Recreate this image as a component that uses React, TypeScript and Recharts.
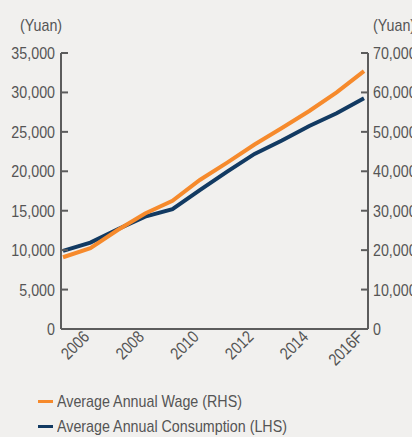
import { LineChart, Line, XAxis, YAxis, Legend } from "recharts"

// 2005 is drawn but not labelled, the axis shows every other year
const years = ["2005", "2006", "2007", "2008", "2009", "2010", "2011", "2012", "2013", "2014", "2015", "2016F"]
const shownYears = ["2006", "2008", "2010", "2012", "2014", "2016F"]
const wage = [18200, 20500, 25100, 29300, 32500, 37800, 42200, 46800, 51000, 55300, 60000, 65400]
const consumption = [9900, 10950, 12650, 14250, 15200, 17600, 19950, 22200, 23900, 25750, 27350, 29250]
const leftTicks = [0, 5000, 10000, 15000, 20000, 25000, 30000, 35000]
const rightTicks = [0, 10000, 20000, 30000, 40000, 50000, 60000, 70000]

const data = years.map((year, i) => ({ year, wage: wage[i], consumption: consumption[i] }))

// no narrow font installed, so squeeze Liberation Sans horizontally
const FONT = "'Liberation Sans', Arial, sans-serif"
const SQUEEZE = 0.84
const TEXT = "#555555"
const AXIS = "#5c5c5c"
const ORANGE = "#f68a2c"
const NAVY = "#123a62"

const fmt = (v: number) => v.toLocaleString("en-US")

function YearTick({ x, y, payload }: any) {
  if (!shownYears.includes(payload.value)) return <g />
  return (
    <g transform={`translate(${x},${y + 9}) rotate(-45) scale(${SQUEEZE},1)`}>
      <text x={0} y={0} textAnchor="end" fill={TEXT} fontSize={17} fontFamily={FONT}>
        {payload.value}
      </text>
    </g>
  )
}

function ValueTick({ x, y, payload, anchor }: any) {
  return (
    <g transform={`translate(${x},${y}) scale(${SQUEEZE},1)`}>
      <text x={0} y={0} dy="0.35em" textAnchor={anchor} fill={TEXT} fontSize={17} fontFamily={FONT}>
        {fmt(payload.value)}
      </text>
    </g>
  )
}

const squeezed = {
  fontFamily: FONT,
  fontSize: 17,
  color: TEXT,
  whiteSpace: "nowrap" as const,
  transform: `scaleX(${SQUEEZE})`,
  transformOrigin: "left center",
}

function ChartLegend() {
  const items = [
    { name: "Average Annual Wage (RHS)", color: ORANGE },
    { name: "Average Annual Consumption (LHS)", color: NAVY },
  ]
  return (
    <div>
      {items.map((it) => (
        <div key={it.name} style={{ display: "flex", alignItems: "center", height: 25 }}>
          <span style={{ display: "inline-block", width: 15, height: 3, background: it.color, marginRight: 4, flexShrink: 0 }} />
          <span style={squeezed}>{it.name}</span>
        </div>
      ))}
    </div>
  )
}

export default function App() {
  return (
    <div style={{ position: "absolute", left: 0, top: 0, width: 412, height: 437, background: "#f1f0ee", overflow: "hidden" }}>
      <div style={{ ...squeezed, position: "absolute", left: 20, top: 16 }}>(Yuan)</div>
      <div style={{ ...squeezed, position: "absolute", left: 373, top: 16 }}>(Yuan)</div>
      <LineChart width={412} height={437} data={data} margin={{ top: 53, right: 0, bottom: 68, left: 0 }}>
        <XAxis
          dataKey="year"
          interval={0}
          tick={<YearTick />}
          tickLine={false}
          tickSize={0}
          tickMargin={0}
          height={40}
          padding={{ left: 2, right: 4 }}
          axisLine={{ stroke: AXIS, strokeWidth: 2 }}
        />
        <YAxis
          yAxisId="left"
          domain={[0, 35000]}
          ticks={leftTicks}
          width={61}
          tickSize={-7}
          tickMargin={13}
          tick={<ValueTick anchor="end" />}
          tickLine={{ stroke: AXIS, strokeWidth: 2 }}
          axisLine={{ stroke: AXIS, strokeWidth: 2 }}
        />
        <YAxis
          yAxisId="right"
          orientation="right"
          domain={[0, 70000]}
          ticks={rightTicks}
          width={44}
          tickSize={-7}
          tickMargin={12}
          tick={<ValueTick anchor="start" />}
          tickLine={{ stroke: AXIS, strokeWidth: 2 }}
          axisLine={{ stroke: AXIS, strokeWidth: 2 }}
        />
        <Line
          yAxisId="left"
          dataKey="consumption"
          name="Average Annual Consumption (LHS)"
          stroke={NAVY}
          strokeWidth={4}
          dot={false}
          isAnimationActive={false}
        />
        <Line
          yAxisId="right"
          dataKey="wage"
          name="Average Annual Wage (RHS)"
          stroke={ORANGE}
          strokeWidth={4}
          dot={false}
          isAnimationActive={false}
        />
        <Legend
          layout="vertical"
          align="center"
          verticalAlign="middle"
          content={<ChartLegend />}
          wrapperStyle={{ left: 38, top: 389, width: 370 }}
        />
      </LineChart>
    </div>
  )
}
